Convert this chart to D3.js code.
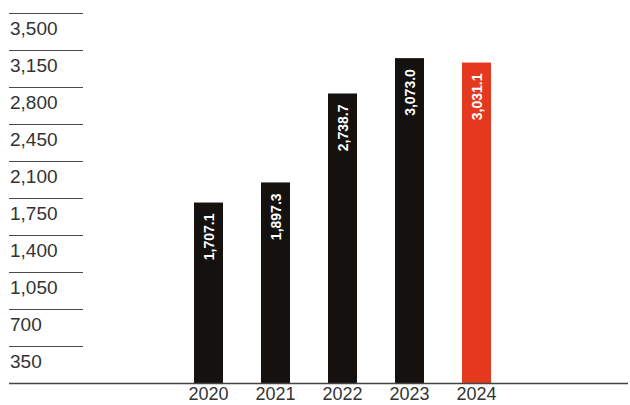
<!DOCTYPE html>
<html>
<head>
<meta charset="utf-8">
<script src="https://cdn.jsdelivr.net/npm/d3@7"></script>
<style>
  html, body { margin: 0; padding: 0; background: #fff; }
  svg { display: block; }
</style>
</head>
<body>
<svg id="chart" width="630" height="405"></svg>
<script>
// Annual figures
const years = ["2020", "2021", "2022", "2023", "2024"];
const values = [1707.1, 1897.3, 2738.7, 3073.0, 3031.1];
const yTicks = [350, 700, 1050, 1400, 1750, 2100, 2450, 2800, 3150, 3500];

const svg = d3.select("#chart");
const fmt = d3.format(",.1f");
const fmtTick = d3.format(",");

const y = d3.scaleLinear().domain([0, 3500]).range([383, 13]);
const x = d3.scaleBand().domain(years).range([175, 510])
  .paddingInner(0.567).paddingOuter(0.2835);

// Short tick rules on the left with labels underneath
const ticks = svg.append("g");
ticks.selectAll("line").data(yTicks).join("line")
  .attr("x1", 9).attr("x2", 83)
  .attr("y1", d => y(d) + 0.5).attr("y2", d => y(d) + 0.5)
  .attr("stroke", "#4a4a4a").attr("stroke-width", 1);
ticks.selectAll("text").data(yTicks).join("text")
  .attr("x", 10).attr("y", d => y(d) + 22)
  .attr("font-family", "Liberation Sans, Arial, sans-serif")
  .attr("font-size", 19).attr("fill", "#333")
  .text(d => fmtTick(d));

// Bars
svg.append("g").selectAll("rect").data(values).join("rect")
  .attr("x", (d, i) => x(years[i]))
  .attr("width", x.bandwidth())
  .attr("y", d => y(d))
  .attr("height", d => y(0) - y(d))
  .attr("fill", (d, i) => i === years.length - 1 ? "#e5391f" : "#14110f");

// Baseline
svg.append("line")
  .attr("x1", 9).attr("x2", 628)
  .attr("y1", y(0) + 0.5).attr("y2", y(0) + 0.5)
  .attr("stroke", "#444").attr("stroke-width", 1.5);

// Value labels inside bars, rotated
svg.append("g").selectAll("text").data(values).join("text")
  .attr("transform", (d, i) =>
    `translate(${x(years[i]) + x.bandwidth() / 2},${y(d) + 11}) rotate(-90)`)
  .attr("text-anchor", "end")
  .attr("dominant-baseline", "central")
  .attr("font-family", "Liberation Sans, Arial, sans-serif")
  .attr("font-weight", "bold")
  .attr("font-size", 14)
  .attr("fill", "#fff")
  .text(d => fmt(d));

// Year labels
svg.append("g").selectAll("text").data(years).join("text")
  .attr("x", d => x(d) + x.bandwidth() / 2)
  .attr("y", 400)
  .attr("text-anchor", "middle")
  .attr("font-family", "Liberation Sans, Arial, sans-serif")
  .attr("font-size", 18).attr("fill", "#333")
  .text(d => d);
</script>
</body>
</html>
